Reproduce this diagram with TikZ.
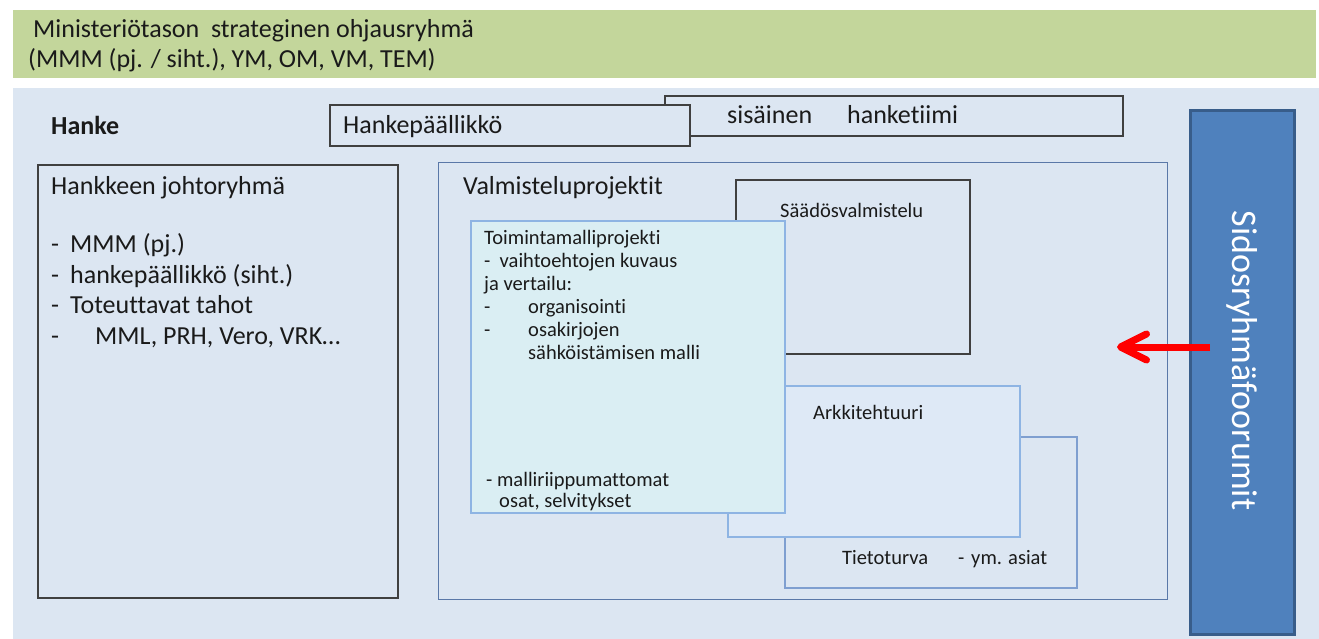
\documentclass[tikz,border=0pt]{standalone}
\usepackage{fontspec}
\setmainfont{Carlito}[Ligatures=NoCommon]
\usetikzlibrary{arrows.meta}
\definecolor{bandgreen}{HTML}{C3D69B}
\definecolor{bgblue}{HTML}{DCE6F2}
\definecolor{darkline}{HTML}{404040}
\definecolor{valline}{HTML}{5A78A8}
\definecolor{lightline}{HTML}{8EB4E3}
\definecolor{tietoline}{HTML}{7F9FD0}
\definecolor{arkfill}{HTML}{DEE9F6}
\definecolor{toimfill}{HTML}{DAEEF3}
\definecolor{barfill}{HTML}{4F81BD}
\definecolor{barline}{HTML}{385D8A}
\definecolor{textcol}{HTML}{1A1A1A}
\begin{document}
\begin{tikzpicture}[x=1pt,y=-1pt,
  box/.style={inner sep=0pt, outer sep=0pt, anchor=north west, line width=1.2pt},
  big/.style={anchor=base west, inner sep=0pt, text=textcol, font=\fontsize{26}{30}\selectfont},
  small/.style={anchor=base west, inner sep=0pt, text=textcol, font=\fontsize{20.5}{23}\selectfont}]
\useasboundingbox (0,0) rectangle (1319,639);
\fill[white] (0,0) rectangle (1319,639);
% green band
\node[box, fill=bandgreen, minimum width=1303pt, minimum height=68pt] (band) at (13,10) {};
\node[big] (m1) at (33,38) {Ministeriötason\ \ strateginen ohjausryhmä};
\node[big] (m2) at (28,68) {(MMM (pj. / siht.), YM, OM, VM, TEM)};
% background
\node[box, fill=bgblue, minimum width=1306pt, minimum height=551pt] (bg) at (13,88) {};
\node[big, font=\fontsize{26}{30}\selectfont\bfseries] (hanke) at (51,135) {Hanke};
% team boxes
\node[box, draw=darkline, fill=bgblue, minimum width=458pt, minimum height=40pt] (tiimi) at (665,96) {};
\node[big] (sis) at (727,124) {sisäinen};
\node[big] (ht) at (847,124) {hanketiimi};
\node[box, draw=darkline, fill=bgblue, minimum width=360pt, minimum height=41pt] (hp) at (330,105) {};
\node[big] (hpt) at (343,134) {Hankepäällikkö};
% johtoryhma
\node[box, draw=darkline, fill=bgblue, minimum width=360pt, minimum height=433pt] (jr) at (38,165) {};
\node[big] (jr0) at (51,194) {Hankkeen\ johtoryhmä};
\node[big] (d1) at (51,252) {-};
\node[big] (jr1) at (70,252) {MMM (pj.)};
\node[big] (d2) at (51,283) {-};
\node[big] (jr2) at (70,283) {hankepäällikkö\ (siht.)};
\node[big] (d3) at (51,313) {-};
\node[big] (jr3) at (70,313) {Toteuttavat tahot};
\node[big] (d4) at (51,344) {-};
\node[big] (jr4) at (95,344) {MML, PRH, Vero, VRK…};
% valmisteluprojektit
\node[box, draw=valline, line width=1pt, fill=bgblue, minimum width=729pt, minimum height=436pt] (vp) at (438,163) {};
\node[big] (vpt) at (463,195) {Valmisteluprojektit};
\node[box, draw=darkline, fill=bgblue, minimum width=234pt, minimum height=174pt] (sv) at (736,180) {};
\node[small] (svt) at (780,217) {Säädösvalmistelu};
\node[box, draw=tietoline, fill=bgblue, minimum width=292pt, minimum height=151pt] (tt) at (785,437) {};
\node[small] (ttt) at (842,564) {Tietoturva};
\node[small] (ttd) at (958,564) {-};
\node[small] (tty) at (971,564) {ym. asiat};
\node[box, draw=lightline, fill=arkfill, minimum width=292pt, minimum height=151pt] (ak) at (728,386) {};
\node[small] (akt) at (813,419) {Arkkitehtuuri};
\node[box, draw=lightline, fill=toimfill, minimum width=314pt, minimum height=292pt] (tm) at (471,221) {};
\node[small] (tm1) at (484,244) {Toimintamalliprojekti};
\node[small] (tm2) at (484,267) {-\ \ vaihtoehtojen kuvaus};
\node[small] (tm3) at (484,290) {ja vertailu:};
\node[small] (tm4d) at (484,313) {-};
\node[small] (tm4) at (528,313) {organisointi};
\node[small] (tm5d) at (484,336) {-};
\node[small] (tm5) at (528,336) {osakirjojen};
\node[small] (tm6) at (528,359) {sähköistämisen malli};
\node[small] (tm7) at (486,486) {- malliriippumattomat};
\node[small] (tm8) at (499,507) {osat, selvitykset};
% sidosryhmafoorumit bar
\node[box, draw=barline, line width=3pt, fill=barfill, minimum width=104pt, minimum height=523pt] (bar) at (1190,111) {};
\node[rotate=-90, text=white, inner sep=0pt, font=\fontsize{36}{40}\selectfont] (bart) at ([yshift=12pt]bar.center) {Sidosryhmäfoorumit};
% arrow
\coordinate (astart) at (1210,347);
\coordinate (aend) at (1117,347);
\draw[red, line width=7pt, -{Straight Barb[length=26pt, width=26pt, line cap=round, line join=round]}] (astart) -- (aend);
\end{tikzpicture}
\end{document}
